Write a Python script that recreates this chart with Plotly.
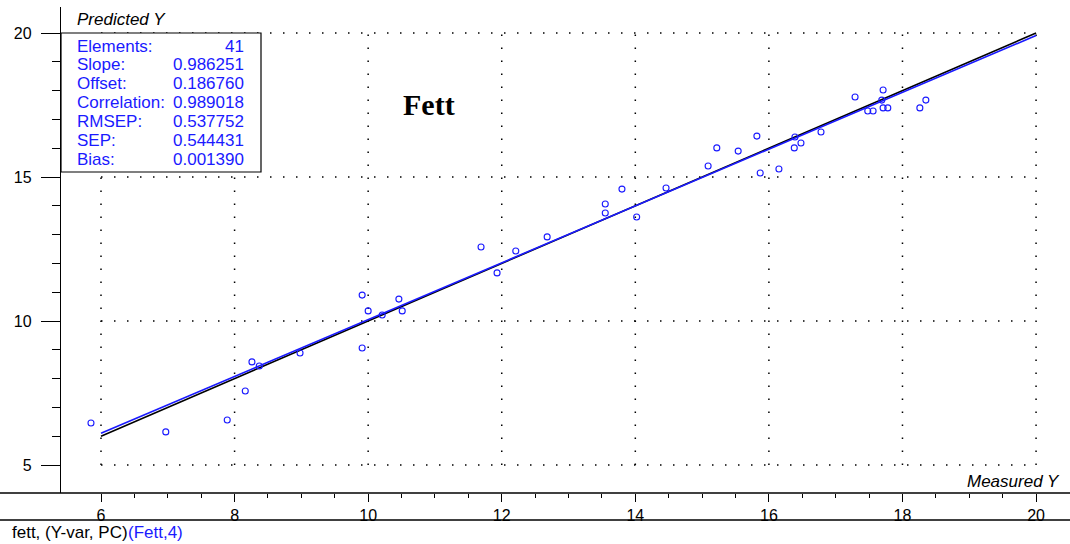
import numpy as np
import plotly.graph_objects as go

# ---- data ----
measured = [5.85, 6.97, 7.89, 8.16, 8.26, 8.37, 8.98, 9.91, 9.91, 10.00,
            10.21, 10.46, 10.51, 11.69, 11.93, 12.21, 12.68, 13.55, 13.55, 13.80,
            14.02, 14.46, 15.09, 15.22, 15.54, 15.82, 15.87, 16.15, 16.39, 16.38,
            16.48, 16.78, 17.29, 17.48, 17.56, 17.71, 17.69, 17.71, 17.78, 18.26,
            18.35]
predicted = [6.46, 6.15, 6.56, 7.57, 8.58, 8.44, 8.89, 10.90, 9.06, 10.35,
             10.21, 10.76, 10.35, 12.57, 11.67, 12.43, 12.92, 13.75, 14.06, 14.58,
             13.61, 14.62, 15.38, 16.01, 15.90, 16.42, 15.14, 15.28, 16.39, 16.01,
             16.18, 16.56, 17.78, 17.29, 17.29, 18.02, 17.67, 17.40, 17.40, 17.40,
             17.67]

stat_labels = ["Elements:", "Slope:", "Offset:", "Correlation:", "RMSEP:", "SEP:", "Bias:"]
stat_values = ["41", "0.986251", "0.186760", "0.989018", "0.537752", "0.544431", "0.001390"]
slope = 0.986251
offset = 0.186760

x_ticks = [6, 8, 10, 12, 14, 16, 18, 20]
y_ticks = [5, 10, 15, 20]
line_x = [6, 20]

W, H = 1070, 544
L, R, T, B = 61, 0, 7, 51
PW, PH = W - L - R, H - T - B
BLUE = "#1a1aff"
FONT = "Liberation Sans, Arial, Helvetica, sans-serif"


def xp(px):
    return (px - L) / PW


def yp(py):
    return (H - B - py) / PH


fig = go.Figure()

# identity (target) line
fig.add_trace(go.Scatter(x=line_x, y=line_x, mode="lines",
                         line=dict(color="black", width=1.6), hoverinfo="skip"))
# regression line
fig.add_trace(go.Scatter(x=line_x, y=[slope * v + offset for v in line_x], mode="lines",
                         line=dict(color=BLUE, width=1.6), hoverinfo="skip"))
# samples
fig.add_trace(go.Scatter(x=measured, y=predicted, mode="markers",
                         marker=dict(symbol="circle-open", size=6, color=BLUE,
                                     line=dict(width=1.1, color=BLUE))))

shapes = []
# dotted grid limited to data range
for xv in x_ticks:
    shapes.append(dict(type="line", xref="x", yref="y", x0=xv, x1=xv,
                       y0=y_ticks[0], y1=y_ticks[-1], layer="below",
                       line=dict(color="black", width=1.5, dash="1.5px,11.5px")))
for yv in y_ticks:
    shapes.append(dict(type="line", xref="x", yref="y", x0=x_ticks[0], x1=x_ticks[-1],
                       y0=yv, y1=yv, layer="below",
                       line=dict(color="black", width=1.5, dash="1.5px,11.5px")))
# x axis line extended across the full width, and bottom rule
shapes.append(dict(type="line", xref="paper", yref="paper", x0=xp(0), x1=xp(W),
                   y0=yp(493), y1=yp(493), line=dict(color="black", width=1.3)))
shapes.append(dict(type="line", xref="paper", yref="paper", x0=xp(0), x1=xp(W),
                   y0=yp(520), y1=yp(520), line=dict(color="black", width=1.3)))
# statistics box
shapes.append(dict(type="rect", xref="paper", yref="paper", x0=xp(61), x1=xp(261),
                   y0=yp(172), y1=yp(33), fillcolor="white", layer="above",
                   line=dict(color="black", width=1.2)))

ann = []
row_y = [46 + i * 18.9 for i in range(len(stat_labels))]
for lab, val, ry in zip(stat_labels, stat_values, row_y):
    ann.append(dict(x=xp(75), y=yp(ry), xref="paper", yref="paper", text=lab,
                    showarrow=False, xanchor="left", yanchor="middle",
                    font=dict(family=FONT, size=17, color=BLUE)))
    ann.append(dict(x=xp(246), y=yp(ry), xref="paper", yref="paper", text=val,
                    showarrow=False, xanchor="right", yanchor="middle",
                    font=dict(family=FONT, size=17, color=BLUE)))

ann.append(dict(x=xp(75), y=yp(19), xref="paper", yref="paper", text="<i>Predicted Y</i>",
                showarrow=False, xanchor="left", yanchor="middle",
                font=dict(family=FONT, size=17, color="black")))
ann.append(dict(x=xp(1062), y=yp(481), xref="paper", yref="paper", text="<i>Measured Y</i>",
                showarrow=False, xanchor="right", yanchor="middle",
                font=dict(family=FONT, size=17, color="black")))
ann.append(dict(x=xp(429), y=yp(104), xref="paper", yref="paper", text="<b>Fett</b>",
                showarrow=False, xanchor="center", yanchor="middle",
                font=dict(family="Liberation Serif, Times New Roman, serif", size=30, color="black")))
ann.append(dict(x=xp(10), y=yp(532), xref="paper", yref="paper", text="fett, (Y-var, PC)",
                showarrow=False, xanchor="left", yanchor="middle",
                font=dict(family=FONT, size=17, color="black")))
ann.append(dict(x=xp(126), y=yp(532), xref="paper", yref="paper", text="(Fett,4)",
                showarrow=False, xanchor="left", yanchor="middle",
                font=dict(family=FONT, size=17, color=BLUE)))

x_minor = [v for v in np.arange(6, 20.01, 0.5) if v not in x_ticks]
y_minor = [v for v in range(5, 21) if v not in y_ticks]

fig.update_layout(
    width=W, height=H,
    margin=dict(l=L, r=R, t=T, b=B),
    paper_bgcolor="white", plot_bgcolor="white",
    showlegend=False,
    shapes=shapes, annotations=ann,
    xaxis=dict(range=[6 - 40 / 66.79, 6 + 969 / 66.79], tickmode="array", tickvals=x_ticks,
               showgrid=False, zeroline=False, showline=False,
               ticks="outside", ticklen=8, tickwidth=1.2, tickcolor="black",
               tickfont=dict(family=FONT, size=16, color="black"),
               minor=dict(tickmode="array", tickvals=x_minor, ticks="outside",
                          ticklen=4, tickwidth=1, tickcolor="black", showgrid=False)),
    yaxis=dict(range=[5 - 28 / 28.8, 5 + 458 / 28.8], tickmode="array", tickvals=y_ticks,
               showgrid=False, zeroline=False, showline=True, linecolor="black", linewidth=1.3,
               ticks="outside", ticklen=19, tickwidth=1.2, tickcolor="black",
               ticklabelstandoff=6,
               tickfont=dict(family=FONT, size=16, color="black"),
               minor=dict(tickmode="array", tickvals=y_minor, ticks="outside",
                          ticklen=8, tickwidth=1, tickcolor="black", showgrid=False)),
)

fig.write_html("out.html", config={"displayModeBar": False},
               post_script="document.body.style.margin='0';document.body.style.overflow='hidden';")
